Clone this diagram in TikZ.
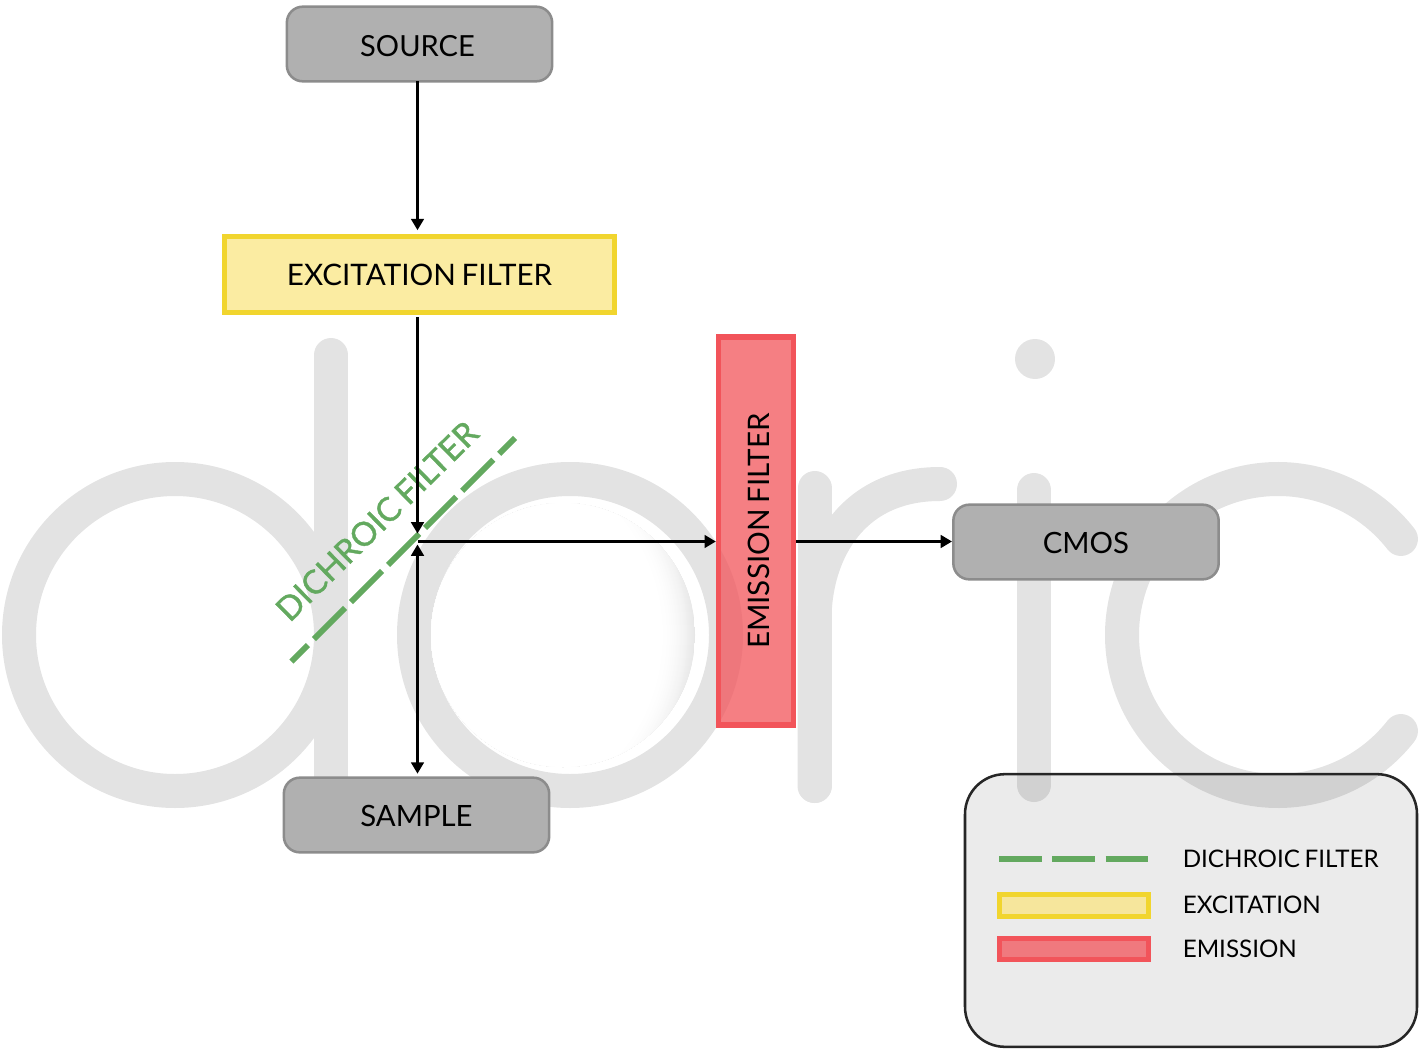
\documentclass[tikz,border=0pt]{standalone}
\usepackage{fontspec}
\setmainfont[WordSpace=0.75]{Lato}
\newfontfamily\dfont[FakeBold=1.2,WordSpace=0.75]{Lato}
\usetikzlibrary{arrows.meta}
\definecolor{logogrey}{HTML}{E3E3E3}
\definecolor{boxgrey}{HTML}{B0B0B0}
\definecolor{boxedge}{HTML}{8C8C8C}
\definecolor{yedge}{HTML}{F1D52E}
\definecolor{yfill}{HTML}{FBECA2}
\definecolor{ylegend}{HTML}{F6E69C}
\definecolor{redge}{HTML}{F2545A}
\definecolor{dgreen}{HTML}{63A95F}
\tikzset{
  x=0.75pt,y=0.75pt,
  logo/.style={draw=logogrey,line width=25.5pt,line cap=round},
  device/.style={draw=boxedge,fill=boxgrey,line width=1.9pt,rounded corners=12pt,
    minimum width=199pt,minimum height=56pt,outer sep=0pt,inner sep=0pt,
    text height=16.5pt,text depth=0pt,font=\fontsize{22}{26}\selectfont},
  conn/.style={-{Triangle[length=8.5pt,width=9.5pt]},line width=1.9pt,black},
  conn2/.style={{Triangle[length=8.5pt,width=9.5pt]}-{Triangle[length=8.5pt,width=9.5pt]},line width=1.9pt,black},
  dich/.style={draw=dgreen,line width=4.4pt,dash pattern=on 33pt off 6.3pt},
  legtext/.style={anchor=west,inner sep=0pt,font=\fontsize{18.15}{22}\selectfont},
}
\begin{document}
\begin{tikzpicture}
\useasboundingbox (0,0) rectangle (1421,-1049);
% logo
\draw[logo] (175,-635) circle[radius=156];
\draw[logo] (331,-355) -- (331,-785);
\draw[logo] (570,-635) circle[radius=156];
\begin{scope}
\clip (563,-635) circle[radius=132];
\foreach \i in {0,...,36} {
  \pgfmathsetmacro{\rr}{220-\i}
  \pgfmathsetmacro{\pc}{85*(1-\i/36)*(1-\i/36)}
  \fill[logogrey!\pc!white] (475,-635) circle[radius=\rr];
}
\end{scope}
\draw[logo] (814.5,-786) -- (814.5,-620) .. controls (814.5,-555) and (850,-484) .. (940,-484);
\draw[logo] (814.5,-786) -- (814.5,-488);
\fill[logogrey] (1035,-359) circle[radius=20];
\draw[logo] (1034,-490) -- (1034,-785);
\draw[logo] (1278,-635) ++(38:156) arc[start angle=38,end angle=322,radius=156];
% boxes
\node[device,text height=18.5pt,font=\fontsize{21.8}{26}\selectfont] (source) at (419.5,-44) {\hspace*{-3pt}SOURCE};
\node[device] (cmos) at (1086,-542) {CMOS};
\node[device] (sample) at (416.5,-815) {SAMPLE};
\node[draw=yedge,fill=yfill,line width=3.9pt,minimum width=293pt,minimum height=57.5pt,outer sep=0pt,inner sep=0pt,font=\fontsize{22.2}{26}\selectfont] (excit) at (419.5,-274.5) {EXCITATION FILTER};
\node[draw=redge,fill=redge,fill opacity=0.75,draw opacity=1,text opacity=1,line width=4.2pt,minimum width=56pt,minimum height=291pt,outer sep=2.1pt,inner sep=0pt] (emis) at (756,-531) {};
\node[rotate=90,inner sep=0pt,font=\fontsize{22.2}{26}\selectfont] (emistext) at (759,-531) {EMISSION FILTER};
% dichroic
\coordinate (dstart) at (291.5,-661.5);
\coordinate (dend) at (515,-438);
\draw[dich,dash phase=15.5pt] (dstart) -- (dend);
\node[rotate=44.5,inner sep=0pt,text=dgreen,font=\dfont\fontsize{24.8}{30}\selectfont] (dtext) at (377,-521) {DICHROIC FILTER};
% connectors
\coordinate (junction) at (417.5,-541.5);
\draw[conn] (junction |- source.south) -- ([yshift=4.5pt]junction |- excit.north);
\draw[conn] ([yshift=-3pt]junction |- excit.south) -- ([yshift=6pt]junction);
\draw[conn2] ([yshift=-2.25pt]junction) -- ([yshift=3pt]junction |- sample.north);
\draw[conn] (junction) -- (junction -| emis.west);
\draw[conn] (junction -| emis.east) -- ([xshift=-1pt]junction -| cmos.west);
% legend
\node[draw=black!85,fill=black,fill opacity=0.08,draw opacity=1,line width=1.9pt,rounded corners=30pt,minimum width=339pt,minimum height=204.5pt,inner sep=0pt] (legend) at (1191,-910.5) {};
\coordinate (la) at (999,-859);
\coordinate (lb) at (1149,-859);
\draw[draw=dgreen,line width=3.9pt,dash pattern=on 32pt off 8pt] (la) -- (lb);
\node[draw=yedge,fill=ylegend,line width=3.9pt,minimum width=112pt,minimum height=16pt,inner sep=0pt] (lyellow) at (1074,-905.5) {};
\node[draw=redge,fill=redge,fill opacity=0.75,draw opacity=1,line width=3.9pt,minimum width=112pt,minimum height=16pt,inner sep=0pt] (lred) at (1074,-949) {};
\node[legtext] (l1) at (1182.5,-858.7) {DICHROIC FILTER};
\node[legtext] (l2) at (1182.5,-904.7) {EXCITATION};
\node[legtext] (l3) at (1182.5,-948.7) {EMISSION};
\end{tikzpicture}
\end{document}
